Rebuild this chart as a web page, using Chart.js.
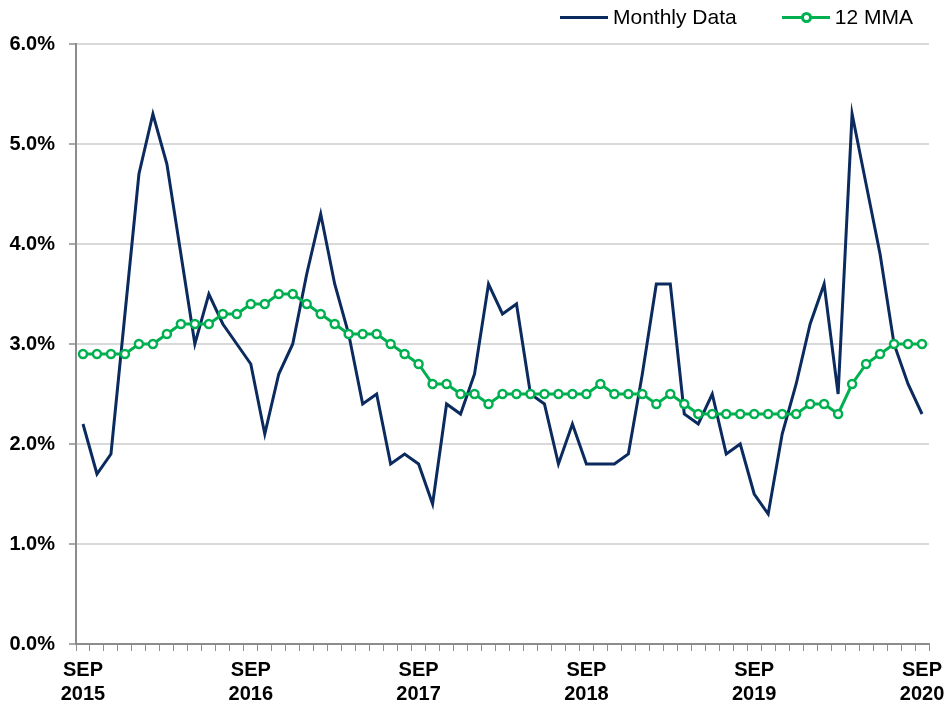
<!DOCTYPE html>
<html>
<head>
<meta charset="utf-8">
<script src="https://cdn.jsdelivr.net/npm/chart.js@4"></script>
<style>
  html, body { margin: 0; padding: 0; background: #fff; }
  #wrap { position: relative; width: 947px; height: 706px; }
  #legend {
    position: absolute; top: 4px; left: 560px;
    font: 21px "Liberation Sans", Arial, sans-serif; color: #000;
    display: flex; align-items: center; height: 26px;
  }
  .item { display: flex; align-items: center; }
  .swatch { position: relative; width: 48px; height: 3px; margin-right: 5px; }
  .dot {
    position: absolute; left: 19px; top: -4px; width: 5px; height: 5px;
    border: 3px solid #00b050; border-radius: 50%; background: #fff;
  }
</style>
</head>
<body>
<div id="wrap">
  <canvas id="trendChart" width="947" height="706"></canvas>
  <div id="legend">
    <div class="item"><div class="swatch" style="background:#0b2a5e"></div>Monthly Data</div>
    <div class="item" style="margin-left:45px"><div class="swatch" style="background:#00b050"><div class="dot"></div></div>12 MMA</div>
  </div>
</div>
<script>
// Monthly rate, Sep 2015 .. Sep 2020 (%)
const monthlyData = [
  2.2, 1.7, 1.9, 3.3, 4.7, 5.3, 4.8, 3.9, 3.0, 3.5, 3.2, 3.0,
  2.8, 2.1, 2.7, 3.0, 3.7, 4.3, 3.6, 3.1, 2.4, 2.5, 1.8, 1.9,
  1.8, 1.4, 2.4, 2.3, 2.7, 3.6, 3.3, 3.4, 2.5, 2.4, 1.8, 2.2,
  1.8, 1.8, 1.8, 1.9, 2.7, 3.6, 3.6, 2.3, 2.2, 2.5, 1.9, 2.0,
  1.5, 1.3, 2.1, 2.6, 3.2, 3.6, 2.5, 5.3, 4.6, 3.9, 3.0, 2.6,
  2.3,
];

// 12 month moving average (%)
const mmaData = [
  2.9, 2.9, 2.9, 2.9, 3.0, 3.0, 3.1, 3.2, 3.2, 3.2, 3.3, 3.3,
  3.4, 3.4, 3.5, 3.5, 3.4, 3.3, 3.2, 3.1, 3.1, 3.1, 3.0, 2.9,
  2.8, 2.6, 2.6, 2.5, 2.5, 2.4, 2.5, 2.5, 2.5, 2.5, 2.5, 2.5,
  2.5, 2.6, 2.5, 2.5, 2.5, 2.4, 2.5, 2.4, 2.3, 2.3, 2.3, 2.3,
  2.3, 2.3, 2.3, 2.3, 2.4, 2.4, 2.3, 2.6, 2.8, 2.9, 3.0, 3.0,
  3.0,
];

const monthNames = ['SEP', 'OCT', 'NOV', 'DEC', 'JAN', 'FEB', 'MAR', 'APR', 'MAY', 'JUN', 'JUL', 'AUG'];
const yearLabels = ['2015', '2016', '2017', '2018', '2019', '2020'];

// one label per month, starting at SEP 2015
const labels = monthlyData.map((_, i) => {
  const m = i % 12;
  const year = +yearLabels[0] + Math.floor((i + 8) / 12);
  return monthNames[m] + ' ' + year;
});

const colorNavy = '#0b2a5e';
const colorGreen = '#00b050';
const colorAxis = '#8c8c8c';
const colorGrid = '#d9d9d9';

const tickFont = { family: '"Liberation Sans", Arial, sans-serif', size: 20, weight: 'bold' };

const ctx = document.getElementById('trendChart').getContext('2d');
const chart = new Chart(ctx, {
  type: 'line',
  data: {
    labels,
    datasets: [
      {
        label: '12 MMA',
        data: mmaData,
        borderColor: colorGreen,
        borderWidth: 3,
        pointRadius: 4,
        pointBorderWidth: 2.5,
        pointBackgroundColor: '#fff',
        pointBorderColor: colorGreen,
        tension: 0,
        order: 0,
      },
      {
        label: 'Monthly Data',
        data: monthlyData,
        borderColor: colorNavy,
        borderWidth: 3,
        pointRadius: 0,
        tension: 0,
        order: 1,
      },
    ],
  },
  options: {
    responsive: false,
    animation: false,
    layout: { padding: { top: 44, right: 18, left: 0, bottom: 0 } },
    plugins: {
      legend: { display: false },
      tooltip: { enabled: false },
    },
    scales: {
      x: {
        offset: true,
        afterFit: scale => {
          scale.height = 62;
          scale.paddingLeft = 0;
          scale.paddingRight = 0;
        },
        border: { color: colorAxis, width: 2 },
        grid: {
          offset: true,
          drawOnChartArea: false,
          drawTicks: true,
          tickLength: 7,
          color: colorAxis,
          lineWidth: 1,
        },
        ticks: {
          autoSkip: false,
          maxRotation: 0,
          padding: 7,
          color: '#000',
          font: { ...tickFont, lineHeight: 1.2 },
          callback: (value, i) => (i % 12 === 0 ? ['SEP', yearLabels[i / 12]] : ''),
        },
      },
      y: {
        min: 0,
        max: 6,
        afterFit: scale => { scale.width = 76; },
        border: { color: colorAxis, width: 2 },
        grid: {
          color: colorGrid,
          lineWidth: 2,
          tickLength: 7,
          tickColor: colorAxis,
          tickWidth: 1.5,
        },
        ticks: {
          stepSize: 1,
          padding: 14,
          color: '#000',
          font: tickFont,
          callback: value => value.toFixed(1) + '%',
        },
      },
    },
  },
});
</script>
</body>
</html>
